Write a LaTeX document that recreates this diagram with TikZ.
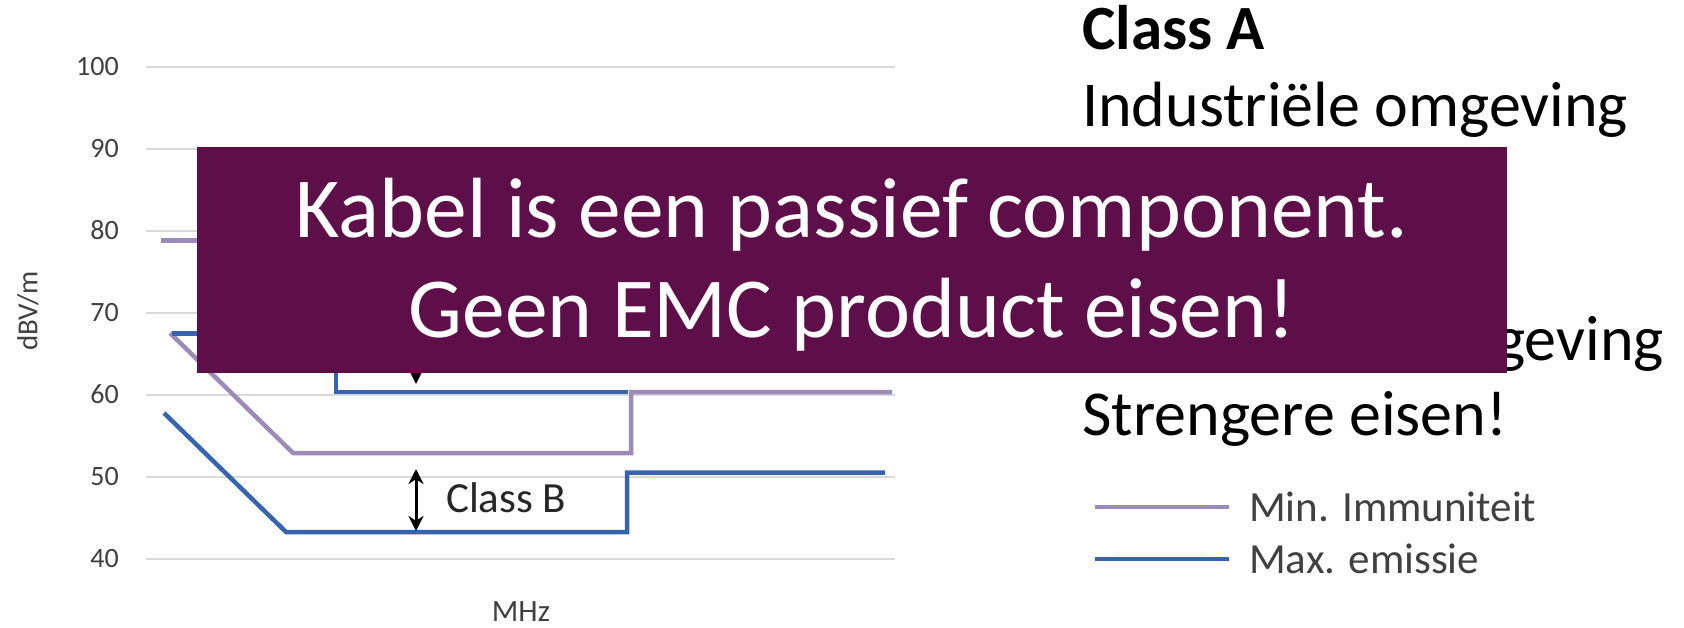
\documentclass[tikz,border=0pt]{standalone}
\usepackage{fontspec}
\setmainfont{Carlito}
\usetikzlibrary{arrows.meta}

\definecolor{gridgray}{HTML}{D9D9D9}
\definecolor{immun}{HTML}{9C8BB8}
\definecolor{emis}{HTML}{3764AE}
\definecolor{bannerpurple}{HTML}{5E0F4A}
\definecolor{axistext}{HTML}{404040}

\tikzset{
  gridline/.style={draw=gridgray, line width=2pt},
  ticklabel/.style={anchor=east, inner sep=0pt, text=axistext, font=\fontsize{28}{30}\selectfont},
  axistitle/.style={inner sep=0pt, text=axistext, font=\fontsize{29}{31}\selectfont},
  immunline/.style={draw=immun, line width=4.5pt, line join=miter},
  emisline/.style={draw=emis, line width=4.5pt, line join=miter},
  gaparrow/.style={draw=black, line width=3pt, {Stealth[length=15pt,width=15pt]}-{Stealth[length=15pt,width=15pt]}},
  sidetext/.style={anchor=base west, inner sep=0pt, font=\fontsize{64}{70}\selectfont},
  legendtext/.style={anchor=west, inner sep=0pt, text=axistext, font=\fontsize{43}{46}\selectfont},
  bannerbox/.style={fill=bannerpurple, draw=none, minimum width=1310pt, minimum height=226pt, inner sep=0pt},
  bannertext/.style={anchor=base, inner sep=0pt, text=white, font=\fontsize{85.5}{100}\selectfont},
}

\begin{document}
\begin{tikzpicture}[x=1pt, y=-1pt]
\useasboundingbox (0,0) rectangle (1684,627);

% horizontal grid and level labels (dBV/m)
\foreach \v in {40,50,...,100} {
  \pgfmathsetmacro\yy{558.5-(\v-40)*8.2}
  \draw[gridline] (146,\yy) -- (895,\yy);
  \node[ticklabel] (tick\v) at (119,\yy) {\v};
}

% axis titles
\node[axistitle, rotate=90] (ylabel) at (28,311) {dBV/m};
\node[axistitle, font=\fontsize{31}{33}\selectfont] (xlabel) at (521,612) {MHz};

% immunity limits
\draw[immunline] (161,240.6) -- (260,240.6);
\draw[immunline] (170,333) -- (293,453) -- (631,453) -- (631,392) -- (892,392);

% emission limits
\draw[emisline] (172,333.5) -- (336,333.5) -- (336,392) -- (628,392);
\draw[emisline] (164,413) -- (286,532) -- (627,532) -- (627,472.5) -- (885,472.5);

% margin arrows
\coordinate (aTop) at (416,336);
\coordinate (aBot) at (416,384);
\draw[gaparrow] (aTop) -- (aBot);
\coordinate (bTop) at (416,469);
\coordinate (bBot) at (416,531);
\draw[gaparrow] (bTop) -- (bBot);
\node[anchor=base west, inner sep=0pt, text=black!85, font=\fontsize{43}{46}\selectfont] (classB) at (446,512.5) {Class B};

% classes on the right
\node[sidetext, font=\fontsize{63}{70}\selectfont\bfseries] (clA) at (1082,49) {Class A};
\node[sidetext] (indA) at (1082,126) {Industriële omgeving};
\node[sidetext, anchor=base east] (resB) at (1664,360) {geving};
\node[sidetext] (strict) at (1082,435) {Strengere eisen!};

% legend
\coordinate (lg1a) at (1095,507);
\coordinate (lg1b) at (1229,507);
\draw[immunline] (lg1a) -- (lg1b);
\node[legendtext] (lgImm) at (1249,507) {Min. Immuniteit};
\coordinate (lg2a) at (1095,559);
\coordinate (lg2b) at (1229,559);
\draw[emisline] (lg2a) -- (lg2b);
\node[legendtext] (lgEm) at (1249,559) {Max. emissie};

% banner
\node[bannerbox] (banner) at (852,260) {};
\node[bannertext] (msg1) at (852,237) {Kabel is een passief component.};
\node[bannertext] (msg2) at (852,337) {Geen EMC product eisen!};
\end{tikzpicture}
\end{document}
